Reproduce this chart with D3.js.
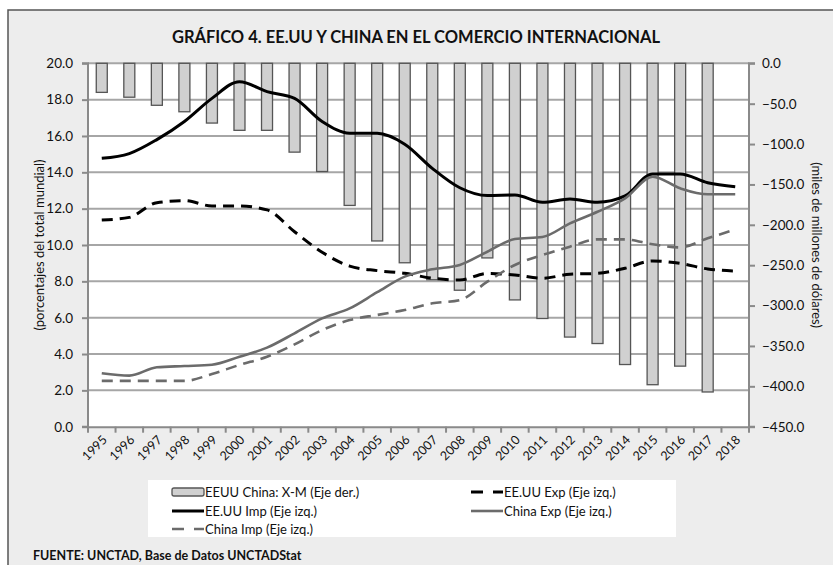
<!DOCTYPE html>
<html><head><meta charset="utf-8">
<script src="https://cdn.jsdelivr.net/npm/d3@7"></script>
<style>body{margin:0;background:#fff}svg{display:block}</style>
</head><body>
<svg id="c" width="833" height="565"></svg>
<script>
const years = ["1995","1996","1997","1998","1999","2000","2001","2002","2003","2004","2005","2006","2007","2008","2009","2010","2011","2012","2013","2014","2015","2016","2017","2018"];
const balanceXM = [-36,-42,-52,-60,-74,-83,-83,-110,-134,-176,-220,-247,-268,-281,-241,-293,-316,-339,-347,-373,-398,-375,-407,null];
const usImp = [14.77,15.03,15.8,16.8,18.07,18.99,18.44,18.07,16.8,16.15,16.15,15.55,14.22,13.15,12.72,12.75,12.35,12.53,12.35,12.7,13.91,13.91,13.43,13.21];
const usExp = [11.37,11.52,12.33,12.44,12.15,12.15,11.93,10.73,9.6,8.84,8.59,8.44,8.17,8.07,8.44,8.35,8.17,8.39,8.44,8.72,9.12,8.99,8.68,8.57];
const chExp = [2.94,2.81,3.27,3.34,3.41,3.85,4.35,5.14,5.96,6.51,7.4,8.26,8.66,8.9,9.63,10.33,10.44,11.19,11.83,12.57,13.76,13.12,12.79,12.79];
const chImp = [2.52,2.52,2.52,2.52,2.9,3.4,3.85,4.53,5.32,5.87,6.15,6.42,6.79,6.97,7.98,8.9,9.45,9.91,10.31,10.31,10.04,9.87,10.37,10.85];
const leftTicks = [0,2,4,6,8,10,12,14,16,18,20];
const rightTicks = [0,-50,-100,-150,-200,-250,-300,-350,-400,-450];
const legendItems = [
  {label:"EEUU China: X-M (Eje der.)", type:"bar"},
  {label:"EE.UU Exp (Eje izq.)", type:"usExp"},
  {label:"EE.UU Imp (Eje izq.)", type:"usImp"},
  {label:"China Exp (Eje izq.)", type:"chExp"},
  {label:"China Imp (Eje izq.)", type:"chImp"}
];

const FONT = "Lato, 'Open Sans', sans-serif";
const svg = d3.select("#c");
const styles = {
  usImp:{stroke:"#000", dash:null, w:3},
  usExp:{stroke:"#000", dash:"11,7", w:3},
  chExp:{stroke:"#6b6b6b", dash:null, w:2.6},
  chImp:{stroke:"#6b6b6b", dash:"11,7", w:2.6}
};

// Frame
svg.append("rect").attr("x",8).attr("y",10).attr("width",840).attr("height",570)
  .attr("fill","#ededed").attr("stroke","#555").attr("stroke-width",1.5);

svg.append("text").attr("x",416).attr("y",43).attr("text-anchor","middle")
  .attr("font-family",FONT).attr("font-weight","bold").attr("font-size",16.5)
  .attr("fill","#111").text("GRÁFICO 4. EE.UU Y CHINA EN EL COMERCIO INTERNACIONAL");

const L=88, R=749, T=63.3, B=426.7;
const x = d3.scaleBand().domain(years).range([L,R]);
const yL = d3.scaleLinear().domain([0,20]).range([B,T]);
const yR = d3.scaleLinear().domain([-450,0]).range([B,T]);

svg.append("rect").attr("x",L).attr("y",T).attr("width",R-L).attr("height",B-T).attr("fill","#fff");

// gridlines
svg.append("g").selectAll("line").data(leftTicks.filter(d=>d>0)).join("line")
  .attr("x1",L).attr("x2",R).attr("y1",d=>yL(d)).attr("y2",d=>yL(d))
  .attr("stroke","#a6a6a6").attr("stroke-width",2);

// bars
const bw = 11;
svg.append("g").selectAll("rect").data(years.map((y,i)=>({y,v:balanceXM[i]})).filter(d=>d.v!=null)).join("rect")
  .attr("x",d=>x(d.y)+x.bandwidth()/2-bw/2).attr("width",bw)
  .attr("y",yR(0)).attr("height",d=>yR(d.v)-yR(0))
  .attr("fill","#d0d0d0").attr("stroke","#555").attr("stroke-width",1.3);

// axes
const axL = svg.append("g").attr("transform",`translate(${L},0)`)
  .call(d3.axisLeft(yL).tickValues(leftTicks).tickFormat(d3.format(".1f")).tickSize(6));
const axR = svg.append("g").attr("transform",`translate(${R},0)`)
  .call(d3.axisRight(yR).tickValues(rightTicks).tickFormat(d3.format(".1f")).tickSize(6));
const axB = svg.append("g").attr("transform",`translate(0,${B})`)
  .call(d3.axisBottom(x).tickSize(6).tickSizeOuter(0));
// bottom ticks at band edges
axB.selectAll(".tick line").attr("transform",`translate(${-x.bandwidth()/2},0)`);
axB.append("line").attr("x1",R).attr("x2",R).attr("y1",0).attr("y2",6).attr("stroke","#8a8a8a");
[axL,axR,axB].forEach(a=>{
  a.selectAll("path,line").attr("stroke","#8a8a8a").attr("stroke-width",2);
  a.selectAll("text").attr("font-family",FONT).attr("font-size",13.5).attr("fill","#111");
});
axL.select("path").attr("d",`M-6,${B}H0V${T}H-6`);
axR.select("path").attr("d",`M6,${B}H0V${T}H6`);
axL.selectAll("text").attr("x",-15);
axR.selectAll("text").attr("x",13);
axB.selectAll("text").attr("text-anchor","end").attr("dy",0).attr("y",0)
  .attr("transform","translate(6,14) rotate(-45)").attr("font-size",12.5);

// lines
const line = d3.line().x((d,i)=>x(years[i])+x.bandwidth()/2).y(d=>yL(d)).curve(d3.curveMonotoneX);
[["usImp",usImp],["usExp",usExp],["chExp",chExp],["chImp",chImp]].forEach(([k,data])=>{
  const s = styles[k];
  svg.append("path").attr("d",line(data)).attr("fill","none").attr("stroke",s.stroke)
    .attr("stroke-width",s.w).attr("stroke-dasharray",s.dash).attr("stroke-linejoin","round");
});
// redraw bar outlines over? keep lines on top as in reference

// axis titles
svg.append("text").attr("transform","translate(44,245) rotate(-90)").attr("text-anchor","middle")
  .attr("font-family",FONT).attr("font-size",13).attr("fill","#111").text("(porcentajes del total mundial)");
svg.append("text").attr("transform","translate(812,245) rotate(90)").attr("text-anchor","middle")
  .attr("font-family",FONT).attr("font-size",13).attr("fill","#111").text("(miles de millones de dólares)");

// legend
svg.append("rect").attr("x",148).attr("y",480).attr("width",528).attr("height",57).attr("fill","#fff");
const pos = [[172,492],[471,492],[172,511],[471,511],[172,529]];
legendItems.forEach((it,i)=>{
  const [lx,ly]=pos[i];
  const g = svg.append("g");
  if(it.type==="bar"){
    g.append("rect").attr("x",lx).attr("y",ly-4).attr("width",32).attr("height",8).attr("rx",2)
      .attr("fill","#d0d0d0").attr("stroke","#555").attr("stroke-width",1.3);
  } else {
    const s=styles[it.type];
    g.append("line").attr("x1",lx).attr("x2",lx+32).attr("y1",ly).attr("y2",ly)
      .attr("stroke",s.stroke).attr("stroke-width",s.w).attr("stroke-dasharray",s.dash?"12,10":null);
  }
  g.append("text").attr("x",lx+33).attr("y",ly+4.5).attr("font-family",FONT).attr("font-size",13)
    .attr("fill","#111").text(it.label);
});

svg.append("text").attr("x",33).attr("y",560).attr("font-family",FONT).attr("font-weight","bold")
  .attr("font-size",12.5).attr("fill","#111").text("FUENTE: UNCTAD, Base de Datos UNCTADStat");
</script>
</body></html>
